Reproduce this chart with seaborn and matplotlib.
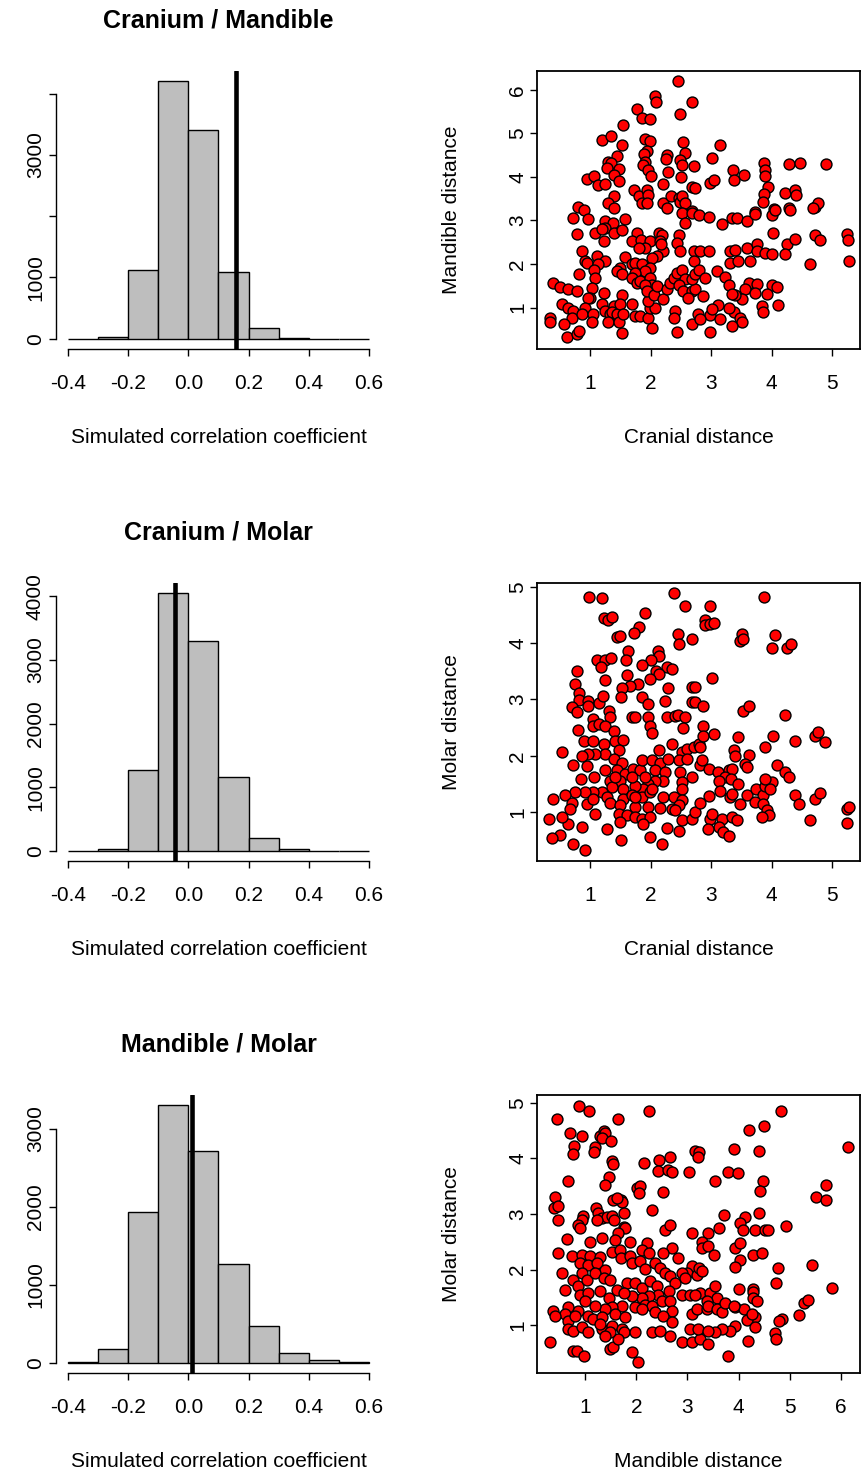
import matplotlib
matplotlib.use("Agg")
import matplotlib.pyplot as plt
import seaborn as sns
import numpy as np

# ---------------- data ----------------
bin_edges = [-0.4, -0.3, -0.2, -0.1, 0.0, 0.1, 0.2, 0.3, 0.4, 0.5, 0.6]
counts_cran_mand = [1, 20, 1120, 4200, 3400, 1090, 170, 15, 3, 1]
counts_cran_mol = [2, 20, 1270, 4050, 3300, 1160, 200, 20, 3, 0]
counts_mand_mol = [5, 180, 1930, 3300, 2720, 1270, 470, 130, 40, 5]
observed_r = [0.158, -0.045, 0.012]
hist_titles = ["Cranium / Mandible", "Cranium / Molar", "Mandible / Molar"]
hist_yticks = [[0, 1000, 2000, 3000, 4000], [0, 1000, 2000, 3000, 4000], [0, 1000, 2000, 3000]]
hist_yticklabels = [["0", "1000", "", "3000", ""],
                    ["0", "1000", "2000", "3000", "4000"],
                    ["0", "1000", "2000", "3000"]]
hist_xticks = [-0.4, -0.2, 0.0, 0.2, 0.4, 0.6]
hist_xticklabels = ["-0.4", "-0.2", "0.0", "0.2", "0.4", "0.6"]

# (cranial distance, mandible distance)
cranial_mandible = [
(2.45,6.19),(2.07,5.86),(2.09,5.72),(2.69,5.73),(2.49,5.45),(1.78,5.55),(1.85,5.36),(1.99,5.32),(1.55,5.19),
(1.19,4.84),(1.34,4.94),(1.53,4.73),(1.91,4.88),(1.99,4.82),(2.54,4.80),(2.57,4.54),(1.94,4.60),(1.89,4.52),
(2.27,4.51),(2.25,4.42),(2.49,4.39),(2.52,4.28),(2.71,4.26),(1.44,4.47),(1.29,4.35),(1.35,4.31),(1.28,4.21),
(1.48,4.19),(1.91,4.35),(1.88,4.28),(1.96,4.16),(2.01,4.01),(2.28,4.11),(2.50,3.99),(2.68,3.76),(0.95,3.95),
(1.07,4.03),(1.13,3.82),(1.24,3.83),(1.40,4.05),(1.47,3.91),(2.20,3.83),(1.73,3.70),(1.80,3.57),(1.94,3.70),
(1.96,3.59),(1.40,3.56),(1.30,3.40),(1.40,3.28),(0.80,3.32),(0.89,3.25),(1.85,3.40),(1.94,3.40),(2.21,3.40),
(2.27,3.28),(2.34,3.55),(2.46,3.51),(2.49,3.43),(2.52,3.55),(2.57,3.40),(2.68,3.21),
(3.15,4.74),(3.01,4.44),(3.36,4.15),(3.38,3.92),(3.55,4.05),(2.98,3.85),(3.04,3.92),(2.74,3.74),(3.88,4.32),
(3.89,4.16),(3.89,4.03),(3.94,3.76),(3.88,3.60),(3.86,3.43),(4.28,4.29),(4.46,4.32),(4.89,4.29),(4.22,3.64),
(4.39,3.70),(4.40,3.59),(4.72,3.30),(4.77,3.40),(4.04,3.27),(4.29,3.28),(3.73,3.19),
(0.71,3.05),(0.96,3.03),(1.24,2.98),(1.37,2.94),(1.25,2.83),(1.39,2.71),(1.58,3.03),(1.53,2.79),(0.78,2.70),
(1.08,2.71),(1.19,2.81),(1.22,2.52),(1.77,2.71),(1.69,2.52),(1.84,2.56),(1.99,2.52),(1.91,2.37),(1.80,2.37),
(2.14,2.71),(2.18,2.67),(2.16,2.52),(2.21,2.29),(2.10,2.18),(2.02,2.14),(2.17,2.45),(2.46,2.67),(2.43,2.48),
(2.49,2.29),(2.52,3.17),(2.56,2.94),(2.68,3.17),(2.79,3.13),(2.71,2.29),(2.72,2.07),(0.86,2.31),(0.92,2.08),
(0.95,2.03),(1.11,2.18),(1.25,2.07),(1.13,1.99),(1.58,2.16),(1.50,1.91),(1.44,1.84),(1.52,1.76),(1.69,1.99),
(1.74,2.03),(1.85,1.99),(1.99,1.91),(1.91,1.84),(1.74,1.80),(1.69,1.68),(1.77,1.57),(1.83,1.61),(1.99,1.68),
(2.02,1.53),(1.91,1.53),(0.81,1.76),(1.07,1.87),(1.08,1.68),(1.03,1.46),(1.00,1.23),(0.39,1.57),(0.50,1.47),
(0.64,1.42),(0.78,1.38),(0.53,1.08),(0.64,1.00),(0.72,0.92),(0.70,0.77),(0.34,0.77),(0.34,0.66),(0.56,0.62),
(0.61,0.32),(0.78,0.39),(0.81,0.47),(0.97,1.23),(0.92,1.00),(0.86,0.85),(1.05,0.86),(1.03,0.66),(1.22,1.34),
(1.19,1.08),(1.25,0.92),(1.33,0.85),(1.39,1.04),(1.36,0.89),(1.44,0.85),(1.30,0.66),(1.47,0.66),(1.52,1.30),
(1.50,1.08),(1.55,0.85),(1.69,1.08),(1.74,0.81),(1.83,0.81),(1.96,0.77),(1.99,1.00),(2.07,1.00),(2.02,0.54),
(1.52,0.41),(1.96,1.15),(1.94,1.38),(2.05,1.30),(2.10,1.50),(2.21,1.19),(2.27,1.42),(2.32,1.57),(2.38,1.68),
(2.43,1.80),(2.52,1.87),(2.57,1.65),(2.46,1.53),(2.54,1.38),(2.68,1.38),(2.74,1.42),(2.62,1.23),(2.40,0.92),
(2.38,0.77),(2.43,0.43),(2.68,0.62),(2.78,0.85),(2.68,1.65),(2.74,1.76),
(2.96,3.09),(3.18,2.93),(3.34,3.05),(3.42,3.05),(3.59,2.99),(3.73,3.15),(4.00,3.13),(4.05,3.24),(4.31,3.24),
(4.69,3.28),(4.02,2.71),(4.25,2.46),(4.39,2.58),(4.71,2.67),(4.80,2.56),(5.24,2.69),(5.26,2.56),(5.27,2.08),
(4.64,1.99),(2.82,2.29),(2.96,2.29),(3.31,2.29),(3.40,2.33),(3.59,2.37),(3.76,2.46),(3.76,2.29),(3.89,2.26),
(4.00,2.22),(4.22,2.22),(3.31,2.03),(3.45,2.08),(3.64,2.08),(2.80,1.87),(2.89,1.68),(3.09,1.84),(3.23,1.70),
(3.29,1.53),(3.62,1.57),(3.76,1.55),(3.56,1.42),(4.00,1.53),(4.09,1.47),(3.92,1.32),(3.73,1.34),(3.51,1.19),
(3.40,1.30),(3.34,1.32),(2.87,1.27),(3.12,1.06),(2.98,0.83),(3.15,0.73),(3.37,0.89),(3.48,0.77),(3.51,0.66),
(3.34,0.58),(2.82,0.73),(2.98,0.43),(3.84,1.04),(3.86,0.91),(4.10,1.06),(3.29,1.00),(3.01,0.96),
]

# (cranial distance, molar distance)
cranial_molar = [
(0.98,4.82),(1.20,4.80),(2.38,4.89),(2.57,4.66),(1.22,4.45),(1.29,4.42),(1.36,4.46),(1.90,4.54),(1.80,4.29),
(1.73,4.19),(1.44,4.11),(1.50,4.12),(2.45,4.16),(2.46,3.98),(2.68,4.08),(1.62,3.86),(1.59,3.71),(2.12,3.87),
(2.13,3.77),(2.01,3.71),(1.85,3.61),(1.11,3.71),(1.24,3.71),(1.35,3.74),(1.17,3.57),(2.27,3.57),(2.35,3.55),
(2.09,3.51),(2.13,3.45),(1.99,3.36),(0.78,3.50),(1.61,3.44),(1.24,3.34),(1.79,3.28),(1.66,3.24),(1.53,3.20),
(1.51,3.04),(0.74,3.28),(0.81,3.11),(0.81,2.99),(0.97,2.98),(1.14,2.93),(1.21,3.07),(0.70,2.86),(0.78,2.77),
(0.97,2.89),(1.05,2.65),(1.31,2.79),(1.33,2.68),(1.85,3.05),(1.96,2.92),(2.24,2.98),(2.28,3.20),(2.69,3.22),
(2.68,2.95),(1.69,2.68),(1.74,2.68),(1.95,2.68),(2.27,2.68),(2.40,2.71),(2.45,2.73),(2.57,2.68),
(3.88,4.82),(2.98,4.67),(2.90,4.42),(2.89,4.33),(2.98,4.35),(3.04,4.36),(3.51,4.17),(3.47,4.04),(3.53,4.07),
(4.05,4.14),(4.00,3.92),(4.25,3.92),(4.32,3.99),(3.01,3.39),(2.74,3.22),(2.74,2.96),(2.86,2.88),(3.53,2.80),
(3.63,2.89),(4.22,2.72),
(0.80,2.46),(1.05,2.53),(1.14,2.56),(1.25,2.53),(1.40,2.44),(1.99,2.53),(2.02,2.40),(2.53,2.49),
(0.89,2.27),(1.05,2.27),(1.22,2.21),(1.41,2.27),(1.55,2.28),(1.47,2.10),(1.25,2.03),(1.08,2.03),(0.96,2.04),
(0.86,1.99),(0.53,2.06),(2.14,2.10),(2.35,2.21),(2.52,2.07),(2.60,2.12),(2.71,2.15),(2.80,2.21),
(0.71,1.84),(0.95,1.81),(1.07,1.63),(0.85,1.59),(1.25,1.74),(1.39,1.94),(1.52,1.88),(1.44,1.75),(1.58,1.68),
(1.33,1.56),(1.50,1.56),(1.70,1.77),(1.83,1.75),(1.85,1.92),(2.02,1.92),(2.16,1.88),(2.29,1.94),(2.07,1.75),
(2.24,1.71),(2.46,1.92),(2.60,1.94),(2.82,1.83),(2.49,1.71),(2.68,1.62),(2.52,1.53),(2.52,1.41),(2.21,1.56),
(2.07,1.56),(1.96,1.50),(1.88,1.41),(1.74,1.47),(1.55,1.41),(1.36,1.44),(1.19,1.35),(1.05,1.35),(0.92,1.35),
(0.75,1.35),(0.59,1.30),(0.39,1.24),(0.70,1.16),(0.67,1.06),(0.95,1.14),(1.05,1.24),(1.28,1.27),(1.33,1.16),
(1.55,1.24),(1.69,1.30),(1.85,1.27),(1.99,1.35),(2.21,1.27),(2.38,1.27),(2.52,1.21),(2.46,1.12),(2.35,1.06),
(2.16,1.08),(1.96,1.09),(1.74,1.09),(1.50,1.12),(1.47,0.97),(1.61,0.94),(1.74,0.91),(1.85,0.88),(1.99,0.91),
(1.88,0.79),(1.50,0.82),(1.28,0.70),(1.08,0.97),(0.86,0.73),(0.64,0.79),(0.53,0.91),(0.32,0.88),(0.50,0.59),
(0.37,0.53),(0.72,0.44),(0.92,0.32),(1.51,0.51),(1.99,0.55),(2.18,0.44),(2.27,0.72),(2.46,0.66),(2.52,0.85),
(2.68,0.88),(2.74,1.00),(2.40,1.03),(1.91,1.62),(1.69,1.62),(1.41,1.62),(2.02,1.41),(1.74,1.27),
(2.86,2.53),(2.87,2.36),(3.04,2.39),(2.82,2.15),(3.45,2.33),(4.02,2.36),(4.39,2.26),(4.71,2.36),(4.77,2.42),
(4.88,2.24),(3.89,2.15),(3.37,2.10),(3.39,1.99),(3.63,2.02),(3.56,1.85),(3.59,1.80),(4.09,1.83),(4.22,1.71),
(4.28,1.63),(2.85,1.92),(2.97,1.77),(3.11,1.71),(3.29,1.74),(3.35,1.77),(3.23,1.62),(3.33,1.59),(3.45,1.50),
(3.13,1.55),(3.15,1.37),(2.97,1.28),(2.82,1.16),(3.31,1.27),(3.34,1.32),(3.48,1.14),(3.59,1.30),(3.74,1.41),
(3.86,1.31),(3.89,1.47),(4.00,1.53),(3.98,1.41),(3.73,1.18),(3.86,1.14),(3.92,1.04),(3.96,0.94),(3.84,0.91),
(2.98,0.88),(3.01,0.97),(3.18,0.88),(3.34,0.92),(3.42,0.85),(3.13,0.73),(3.19,0.65),(3.29,0.58),(2.95,0.69),
(3.89,1.59),(4.39,1.30),(4.45,1.15),(4.72,1.24),(4.80,1.34),(4.64,0.85),(5.24,1.06),(5.28,1.09),(5.24,0.81),
]

# (mandible distance, molar distance)
mandible_molar = [
(0.88,4.94),(1.08,4.86),(0.45,4.71),(1.65,4.70),(2.24,4.85),(0.71,4.46),(0.94,4.40),(1.29,4.40),(1.36,4.49),
(1.39,4.45),(1.33,4.36),(1.51,4.32),(0.79,4.23),(0.77,4.08),(1.20,4.21),(1.18,4.11),(1.53,3.96),(1.54,3.89),
(2.16,3.91),(2.45,3.97),(2.42,3.78),(2.62,3.79),(2.66,4.03),(2.70,3.75),(3.03,3.75),(3.15,4.14),(3.23,4.12),
(3.21,4.02),(0.67,3.60),(1.46,3.66),(1.39,3.53),(2.01,3.47),(2.07,3.50),(2.05,3.37),(2.53,3.39),(0.41,3.30),
(0.40,3.10),(0.48,3.14),(0.48,2.90),(1.55,3.25),(1.70,3.26),(1.73,3.22),(1.62,3.29),(2.30,3.08),(1.21,3.10),
(1.26,3.01),(1.33,2.92),(1.42,2.95),(1.52,2.96),(1.57,2.89),(1.75,3.02),(0.96,2.96),(0.94,2.89),(0.86,2.80),
(0.90,2.74),(1.23,2.90),(1.75,2.77),(1.78,2.74),(2.56,2.72),(2.66,2.80),(3.08,2.65),
(4.82,4.85),(4.50,4.58),(4.20,4.51),(3.90,4.16),(4.40,4.14),(6.14,4.20),(3.80,3.75),(3.99,3.73),(3.54,3.59),
(4.48,3.60),(4.42,3.41),(5.70,3.53),(5.52,3.30),(5.71,3.26),(3.72,2.98),(4.13,2.94),(4.03,2.83),(4.40,3.01),
(3.62,2.74),(3.41,2.66),(4.09,2.71),(4.32,2.71),(4.52,2.72),(4.57,2.71),(4.92,2.78),
(0.64,2.55),(1.10,2.50),(1.33,2.56),(1.65,2.65),(1.59,2.53),(1.88,2.50),(2.20,2.48),(2.11,2.35),(2.69,2.39),
(2.53,2.30),(2.82,2.21),(3.08,2.06),(2.99,1.94),(3.18,1.91),(0.48,2.30),(0.74,2.25),(0.94,2.27),(1.10,2.24),
(1.29,2.22),(1.52,2.31),(1.68,2.35),(1.70,2.21),(1.88,2.24),(1.91,2.12),(2.07,2.15),(2.17,2.01),(2.24,2.30),
(0.90,2.12),(1.06,2.09),(1.23,2.12),(1.39,2.00),(0.94,1.94),(0.77,1.82),(0.87,1.70),(1.03,1.82),(1.20,1.94),
(1.36,1.85),(1.49,1.82),(0.54,1.94),(0.61,1.64),(0.90,1.55),(1.06,1.58),(1.29,1.61),(1.46,1.49),(1.62,1.64),
(1.81,1.76),(1.98,1.76),(2.11,1.67),(2.27,1.79),(2.40,1.70),(2.37,2.12),(2.46,2.03),(2.56,1.94),(2.66,1.88),
(2.76,1.76),(2.89,1.94),(2.95,1.85),(2.63,1.61),(2.43,1.55),(2.24,1.52),(2.11,1.49),(1.91,1.52),(1.75,1.58),
(1.72,1.34),(1.98,1.32),(2.17,1.37),(2.30,1.34),(2.50,1.43),(2.66,1.43),(2.69,1.25),(2.89,1.55),(3.05,1.55),
(3.25,1.58),(3.08,1.20),(3.18,1.29),(1.52,1.32),(1.39,1.29),(1.20,1.34),(1.00,1.43),(0.87,1.25),(0.67,1.32),
(0.61,1.20),(0.38,1.25),(0.41,1.17),(0.67,1.08),(0.80,1.17),(1.06,1.17),(1.16,1.11),(1.33,1.14),(1.59,1.20),
(1.78,1.14),(2.11,1.29),(2.37,1.23),(2.53,1.17),(2.69,1.05),(0.67,0.93),(0.77,0.90),(0.94,0.96),(1.06,0.87),
(1.33,0.93),(1.29,1.02),(1.52,0.99),(1.72,0.93),(1.75,0.87),(1.98,0.87),(2.30,0.87),(2.46,0.90),(2.66,0.81),
(2.89,0.69),(3.08,0.69),(3.25,0.75),(3.05,0.94),(3.21,0.94),(0.32,0.69),(0.77,0.54),(0.84,0.54),(0.97,0.45),
(1.49,0.58),(1.55,0.60),(1.91,0.51),(2.04,0.34),(1.64,0.75),(1.49,0.87),(1.39,0.81),
(3.28,2.50),(3.28,2.39),(3.41,2.43),(3.51,2.27),(3.92,2.39),(4.03,2.47),(4.28,2.27),(4.45,2.30),(4.03,2.18),
(3.92,2.05),(4.76,2.03),(5.43,2.09),(3.23,2.03),(3.28,1.97),(4.01,1.65),(4.27,1.65),(4.27,1.59),(4.27,1.49),
(4.35,1.43),(4.72,1.76),(5.82,1.66),(5.28,1.40),(5.35,1.46),(5.17,1.18),(4.85,1.12),(4.78,1.08),(4.71,0.86),
(4.72,0.76),(4.19,0.72),(3.15,1.55),(3.44,1.58),(3.53,1.70),(3.57,1.49),(3.38,1.43),(3.38,1.29),(3.41,1.34),
(3.57,1.29),(3.67,1.23),(3.73,1.40),(3.93,1.32),(4.11,1.30),(3.90,1.34),(4.32,1.15),(4.16,1.09),(4.26,1.20),
(4.32,0.96),(3.93,0.99),(3.83,0.90),(3.68,0.94),(3.54,0.87),(3.40,0.90),(3.41,0.66),(3.80,0.44),
]

scatter_sets = [cranial_mandible, cranial_molar, mandible_molar]
scatter_xlabels = ["Cranial distance", "Cranial distance", "Mandible distance"]
scatter_ylabels = ["Mandible distance", "Molar distance", "Molar distance"]
scatter_xlims = [(0.12, 5.46), (0.12, 5.46), (0.06, 6.37)]
scatter_ylims = [(0.05, 6.43), (0.13, 5.07), (0.14, 5.14)]
scatter_xticks = [[1, 2, 3, 4, 5], [1, 2, 3, 4, 5], [1, 2, 3, 4, 5, 6]]
scatter_yticks = [[1, 2, 3, 4, 5, 6], [1, 2, 3, 4, 5], [1, 2, 3, 4, 5]]

# ---------------- style ----------------
sns.set_style("ticks")
plt.rcParams['font.family'] = ['Liberation Sans', 'DejaVu Sans']
plt.rcParams['text.color'] = 'black'
plt.rcParams['axes.labelcolor'] = 'black'
plt.rcParams['xtick.color'] = 'black'
plt.rcParams['ytick.color'] = 'black'
FS = 15

W, H = 861, 1477
fig = plt.figure(figsize=(W / 100, H / 100), dpi=100)


def rect(l, t, r, b):
    return [l / W, 1 - b / H, (r - l) / W, (b - t) / H]


row_tops = [71, 583, 1095]
row_h = 278
hist_counts = [counts_cran_mand, counts_cran_mol, counts_mand_mol]
centers = [(bin_edges[i] + bin_edges[i + 1]) / 2 for i in range(len(bin_edges) - 1)]

for i in range(3):
    top = row_tops[i]
    # ---- histogram ----
    ax = fig.add_axes(rect(56, top, 381, top + row_h))
    sns.histplot(x=centers, weights=hist_counts[i], bins=bin_edges, color="#BEBEBE",
                 edgecolor="black", linewidth=1.0, alpha=1, ax=ax)
    ymax = max(hist_counts[i])
    ax.set_xlim(-0.44, 0.64)
    ax.set_ylim(-0.04 * ymax, 1.04 * ymax)
    ax.axvline(observed_r[i], color="black", lw=3.3, zorder=5)
    for s in ["top", "right"]:
        ax.spines[s].set_visible(False)
    ax.spines["left"].set_bounds(hist_yticks[i][0], hist_yticks[i][-1])
    ax.spines["bottom"].set_bounds(-0.4, 0.6)
    for s in ["left", "bottom"]:
        ax.spines[s].set_linewidth(1.0)
        ax.spines[s].set_color("black")
    ax.set_xticks(hist_xticks)
    ax.set_xticklabels(hist_xticklabels)
    ax.set_yticks(hist_yticks[i])
    ax.set_yticklabels(hist_yticklabels[i], rotation=90, va="center")
    ax.tick_params(axis="both", direction="out", length=5, width=1.0, labelsize=FS, colors="black")
    ax.tick_params(axis="x", pad=13)
    ax.tick_params(axis="y", pad=3)
    ax.set_ylabel("")
    ax.set_xlabel("Simulated correlation coefficient", fontsize=FS, labelpad=25)
    ax.set_title(hist_titles[i], fontsize=18, fontweight="bold", pad=31, color="black")

    # ---- scatter ----
    ax2 = fig.add_axes(rect(537, top, 860, top + row_h))
    pts = np.array(scatter_sets[i])
    sns.scatterplot(x=pts[:, 0], y=pts[:, 1], color="#FF0000", edgecolor="black",
                    s=62, linewidth=1.0, ax=ax2, zorder=3)
    ax2.set_xlim(*scatter_xlims[i])
    ax2.set_ylim(*scatter_ylims[i])
    ax2.set_xticks(scatter_xticks[i])
    ax2.set_yticks(scatter_yticks[i])
    ax2.set_yticklabels([str(v) for v in scatter_yticks[i]], rotation=90, va="center")
    for s in ax2.spines.values():
        s.set_linewidth(1.3)
        s.set_color("black")
    ax2.tick_params(axis="both", direction="out", length=5, width=1.0, labelsize=FS, colors="black")
    ax2.tick_params(axis="x", pad=13)
    ax2.tick_params(axis="y", pad=2)
    ax2.set_xlabel(scatter_xlabels[i], fontsize=FS, labelpad=25)
    ax2.set_ylabel(scatter_ylabels[i], fontsize=FS, labelpad=34)

fig.savefig("out.png", dpi=100, facecolor="white")
